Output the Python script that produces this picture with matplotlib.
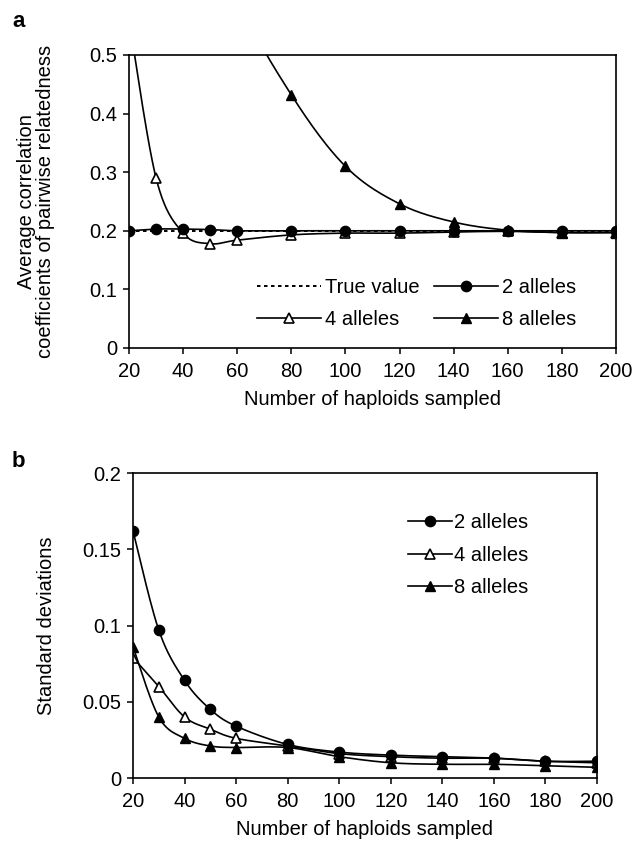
import numpy as np
import matplotlib
matplotlib.use("Agg")
import matplotlib.pyplot as plt
from matplotlib.lines import Line2D

plt.rcParams["font.family"] = ["Liberation Sans", "DejaVu Sans"]

# haploids sampled (x positions for every series)
haploids = [20, 30, 40, 50, 60, 80, 100, 120, 140, 160, 180, 200]

# panel a: average correlation coefficients
true_value = 0.2
avg_2 = [0.200, 0.203, 0.203, 0.202, 0.200, 0.200, 0.200, 0.200, 0.200, 0.200, 0.200, 0.200]
avg_4 = [0.56, 0.290, 0.196, 0.178, 0.184, 0.193, 0.196, 0.196, 0.198, 0.199, 0.197, 0.197]
avg_8 = [2.4, 1.5, 1.05, 0.78, 0.60, 0.432, 0.310, 0.246, 0.215, 0.201, 0.197, 0.197]

# panel b: standard deviations
sd_2 = [0.162, 0.097, 0.064, 0.045, 0.034, 0.022, 0.017, 0.015, 0.014, 0.013, 0.011, 0.011]
sd_4 = [0.079, 0.060, 0.040, 0.032, 0.026, 0.021, 0.016, 0.014, 0.013, 0.013, 0.011, 0.010]
sd_8 = [0.086, 0.040, 0.026, 0.021, 0.020, 0.020, 0.014, 0.010, 0.009, 0.009, 0.008, 0.007]

x_ticks = [20, 40, 60, 80, 100, 120, 140, 160, 180, 200]
FS = 14.5


def smooth(x, y, n=24):
    """Excel-style smoothed line: cubic Bezier with Catmull-Rom control points."""
    x = np.asarray(x, float)
    y = np.asarray(y, float)
    xs, ys = [x[0]], [y[0]]
    t = np.linspace(0, 1, n)[1:]
    for i in range(len(x) - 1):
        i0, i3 = max(i - 1, 0), min(i + 2, len(x) - 1)
        c1x = x[i] + (x[i + 1] - x[i0]) / 6
        c1y = y[i] + (y[i + 1] - y[i0]) / 6
        c2x = x[i + 1] - (x[i3] - x[i]) / 6
        c2y = y[i + 1] - (y[i3] - y[i]) / 6
        bx = (1 - t) ** 3 * x[i] + 3 * (1 - t) ** 2 * t * c1x + 3 * (1 - t) * t ** 2 * c2x + t ** 3 * x[i + 1]
        by = (1 - t) ** 3 * y[i] + 3 * (1 - t) ** 2 * t * c1y + 3 * (1 - t) * t ** 2 * c2y + t ** 3 * y[i + 1]
        xs.extend(bx)
        ys.extend(by)
    return np.array(xs), np.array(ys)


STYLES = {
    "2 alleles": dict(marker="o", mfc="black", mec="black", ms=7.4),
    "4 alleles": dict(marker="^", mfc="white", mec="black", ms=7.8, mew=1.2),
    "8 alleles": dict(marker="^", mfc="black", mec="black", ms=7.8),
}


def draw_series(ax, y, label):
    sx, sy = smooth(haploids, y)
    ax.plot(sx, sy, color="black", lw=1.2)
    ax.plot(haploids, y, ls="none", **STYLES[label])


def handle(label, dotted=False):
    if dotted:
        return Line2D([], [], color="black", lw=1.4, ls=(0, (1.8, 1.8)))
    return Line2D([], [], color="black", lw=1.2, **STYLES[label])


def style_axes(ax):
    ax.set_xlim(20, 200)
    ax.set_xticks(x_ticks)
    ax.tick_params(direction="out", length=4.5, width=1.1, labelsize=FS)
    ax.tick_params(axis="x", pad=5.5)
    ax.tick_params(axis="y", pad=4)
    for s in ax.spines.values():
        s.set_linewidth(1.2)
    ax.set_xlabel("Number of haploids sampled", fontsize=FS, labelpad=6.5)


fig = plt.figure(figsize=(6.34, 8.42), dpi=100)

# ---- panel a
ax1 = fig.add_axes([0.2035, 0.5867, 0.768, 0.348])
ax1.plot([20, 200], [true_value, true_value], color="black", lw=1.4, ls=(0, (1.8, 1.8)))
draw_series(ax1, avg_4, "4 alleles")
draw_series(ax1, avg_8, "8 alleles")
draw_series(ax1, avg_2, "2 alleles")
style_axes(ax1)
ax1.set_ylim(0, 0.5)
ax1.set_yticks([0, 0.1, 0.2, 0.3, 0.4, 0.5])
ax1.set_yticklabels(["0", "0.1", "0.2", "0.3", "0.4", "0.5"])
ax1.set_ylabel("Average correlation\ncoefficients of pairwise relatedness",
               fontsize=FS, linespacing=1.0)
ax1.yaxis.set_label_coords(-0.152, 0.5)
ax1.legend([handle("True value", dotted=True), handle("4 alleles"),
            handle("2 alleles"), handle("8 alleles")],
           ["True value", "4 alleles", "2 alleles", "8 alleles"],
           ncol=2, frameon=False, fontsize=FS, loc="upper left",
           bbox_to_anchor=(0.263, 0.239), borderpad=0, borderaxespad=0,
           handlelength=3.15, handletextpad=0.2, columnspacing=0.75,
           labelspacing=0.65)
fig.text(0.019, 1 - 27 / 842, "a", fontsize=16, fontweight="bold", va="baseline")

# ---- panel b
ax2 = fig.add_axes([0.2098, 0.076, 0.7318, 0.3622])
draw_series(ax2, sd_4, "4 alleles")
draw_series(ax2, sd_8, "8 alleles")
draw_series(ax2, sd_2, "2 alleles")
style_axes(ax2)
ax2.set_ylim(0, 0.2)
ax2.set_yticks([0, 0.05, 0.1, 0.15, 0.2])
ax2.set_yticklabels(["0", "0.05", "0.1", "0.15", "0.2"])
ax2.set_ylabel("Standard deviations", fontsize=FS)
ax2.yaxis.set_label_coords(-0.165, 0.5)
ax2.legend([handle("2 alleles"), handle("4 alleles"), handle("8 alleles")],
           ["2 alleles", "4 alleles", "8 alleles"],
           frameon=False, fontsize=FS, loc="upper left",
           bbox_to_anchor=(0.593, 0.869), borderpad=0, borderaxespad=0,
           handlelength=2.2, handletextpad=0.1, labelspacing=0.675)
fig.text(0.019, 1 - 467 / 842, "b", fontsize=16, fontweight="bold", va="baseline")

fig.savefig("out.png", dpi=100)
